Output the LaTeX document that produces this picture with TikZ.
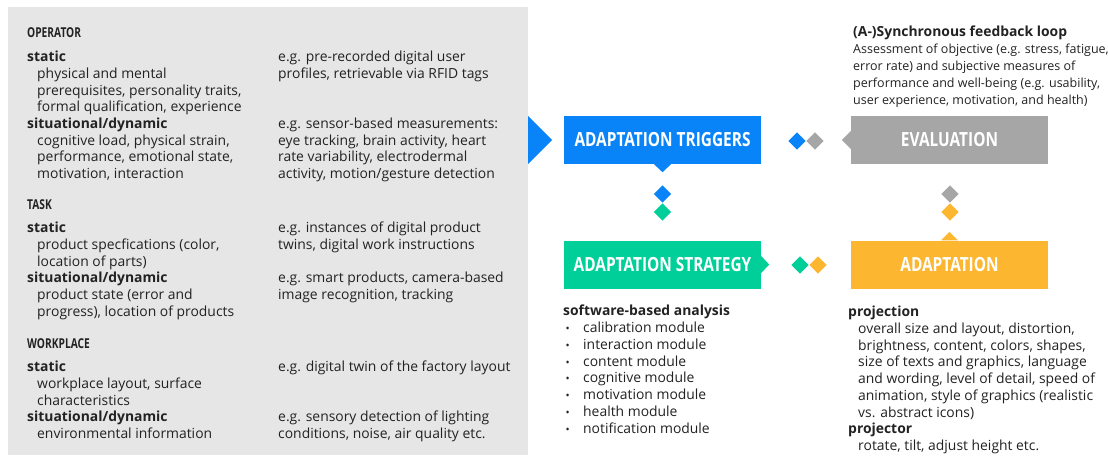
\documentclass[tikz,border=0pt]{standalone}
\usepackage{fontspec}
\setmainfont{Open Sans}
\newfontfamily\headfont[FakeStretch=0.79]{Open Sans}
\newfontfamily\catfont[FakeStretch=0.75]{Open Sans}
\usetikzlibrary{shapes.geometric}

\definecolor{panelgray}{HTML}{E6E6E6}
\definecolor{ink}{HTML}{222222}
\definecolor{trigblue}{HTML}{0884F8}
\definecolor{stratgreen}{HTML}{00CF9A}
\definecolor{evalgray}{HTML}{A6A6A6}
\definecolor{adaptorange}{HTML}{FDB62F}

\tikzset{
  body/.style={inner sep=0pt, anchor=base west, text=ink, font=\fontsize{13.9}{16}\selectfont},
  bodyb/.style={body, font=\fontsize{13.9}{16}\selectfont\bfseries},
  cat/.style={inner sep=0pt, anchor=base west, text=ink, font=\catfont\fontsize{13.6}{15}\selectfont\bfseries},
  stagebox/.style={minimum width=197pt, minimum height=48pt, inner sep=0pt,
    text=white, font=\headfont\fontsize{19.5}{22}\selectfont\bfseries},
  gem/.style={diamond, minimum width=17.4pt, minimum height=17.4pt, inner sep=0pt},
}

% a column of text lines, one node per line
\newcommand\lineblock[5]{%
  \foreach \t [count=\k] in {#5}
    \node[#2] (#1-\k) at (#3, {#4+16.7*(\k-1)}) {\t};}

\begin{document}
\begin{tikzpicture}[x=1pt, y=-1pt]
\useasboundingbox (0,0) rectangle (1108,461);

% grey input panel and its arrow
\fill[panelgray] (8,7) rectangle (528,455);
\fill[trigblue] (528,116) -- (552,140) -- (528,164) -- cycle;

% ---------- OPERATOR ----------
\node[cat] (opcat) at (27,37.3) {OPERATOR};
\node[bodyb] (opst) at (27,61.7) {static};
\lineblock{opstl}{body}{37}{78.4}{{physical and mental},{prerequisites, personality traits,},{formal qualification, experience}}
\node[bodyb] (opdy) at (27,128.3) {situational/dynamic};
\lineblock{opdyl}{body}{37}{145}{{cognitive load, physical strain,},{performance, emotional state,},{motivation, interaction}}
\lineblock{opste}{body}{278}{61.7}{{e.g. pre-recorded digital user},{profiles, retrievable via RFID tags}}
\lineblock{opdye}{body}{278}{128.3}{{e.g. sensor-based measurements:},{eye tracking, brain activity, heart},{rate variability, electrodermal},{activity, motion/gesture detection}}

% ---------- TASK ----------
\node[cat] (tacat) at (27,209) {TASK};
\node[bodyb] (tast) at (27,232.7) {static};
\lineblock{tastl}{body}{37}{249.4}{{product specfications (color,},{location of parts)}}
\node[bodyb] (tady) at (27,282.8) {situational/dynamic};
\lineblock{tadyl}{body}{37}{299.5}{{product state (error and},{progress), location of products}}
\lineblock{taste}{body}{278}{232.7}{{e.g. instances of digital product},{twins, digital work instructions}}
\lineblock{tadye}{body}{278}{282.8}{{e.g. smart products, camera-based},{image recognition, tracking}}

% ---------- WORKPLACE ----------
\node[cat] (wpcat) at (27,348.5) {WORKPLACE};
\node[bodyb] (wpst) at (27,371.7) {static};
\lineblock{wpstl}{body}{37}{388.4}{{workplace layout, surface},{characteristics}}
\node[bodyb] (wpdy) at (27,421.8) {situational/dynamic};
\lineblock{wpdyl}{body}{37}{438.5}{{environmental information}}
\lineblock{wpste}{body}{278}{371.7}{{e.g. digital twin of the factory layout}}
\lineblock{wpdye}{body}{278}{421.8}{{e.g. sensory detection of lighting},{conditions, noise, air quality etc.}}

% ---------- stages ----------
\node[stagebox, fill=trigblue] (trig) at (662.5,140) {ADAPTATION TRIGGERS};
\node[stagebox, fill=stratgreen] (strat) at (662.5,264.5) {ADAPTATION STRATEGY};
\node[stagebox, fill=evalgray] (eval) at (949.5,140) {EVALUATION};
\node[stagebox, fill=adaptorange] (adapt) at (949.5,264.5) {ADAPTATION};

% pointers on the stage boxes
\fill[trigblue] ([xshift=-8.5pt]trig.south) -- ([yshift=-8pt]trig.south) -- ([xshift=8.5pt]trig.south) -- cycle;
\fill[stratgreen] ([yshift=-8.5pt]strat.east) -- ([xshift=8pt]strat.east) -- ([yshift=8.5pt]strat.east) -- cycle;
\fill[evalgray] ([yshift=-9pt]eval.west) -- ([xshift=-9pt]eval.west) -- ([yshift=9pt]eval.west) -- cycle;
\fill[adaptorange] ([xshift=-8.5pt]adapt.north) -- ([yshift=8.5pt]adapt.north) -- ([xshift=8.5pt]adapt.north) -- cycle;

% paired diamonds between the stages
\node[gem, fill=trigblue] (d1a) at (797,141) {};
\node[gem, fill=evalgray] (d1b) at (815,141) {};
\node[gem, fill=trigblue] (d2a) at (662.5,194) {};
\node[gem, fill=stratgreen] (d2b) at (662.5,212) {};
\node[gem, fill=stratgreen] (d3a) at (800,265) {};
\node[gem, fill=adaptorange] (d3b) at (818,265) {};
\node[gem, fill=evalgray] (d4a) at (950,194) {};
\node[gem, fill=adaptorange] (d4b) at (950,212) {};

% feedback loop description
\node[bodyb] (fbt) at (853,36.5) {(A-)Synchronous feedback loop};
\foreach \t [count=\k] in {{Assessment of objective (e.g. stress, fatigue,},{error rate) and subjective measures of},{performance and well-being (e.g. usability,},{user experience, motivation, and health)}}
  \node[body, font=\fontsize{12.5}{15}\selectfont] (fbl-\k) at (853, {53.5+17*(\k-1)}) {\t};

% software-based analysis
\node[bodyb] (swt) at (563,315.5) {software-based analysis};
\foreach \t [count=\k] in {calibration module,interaction module,content module,cognitive module,motivation module,health module,notification module}{
  \node[body, font=\fontsize{11}{12}\selectfont] (swb-\k) at (565.5, {332.5+16.8*(\k-1)}) {\textbullet};
  \node[body] (swl-\k) at (583, {332.5+16.8*(\k-1)}) {\t};
}

% projection / projector
\node[bodyb] (prt) at (848,316.5) {projection};
\lineblock{prl}{body}{858}{333.5}{{overall size and layout, distortion,},{brightness, content, colors, shapes,},{size of texts and graphics, language},{and wording, level of detail, speed of},{animation, style of graphics (realistic},{vs. abstract icons)}}
\node[bodyb] (pjt) at (848,433.5) {projector};
\node[body] (pjl) at (858,450.2) {rotate, tilt, adjust height etc.};
\end{tikzpicture}
\end{document}
